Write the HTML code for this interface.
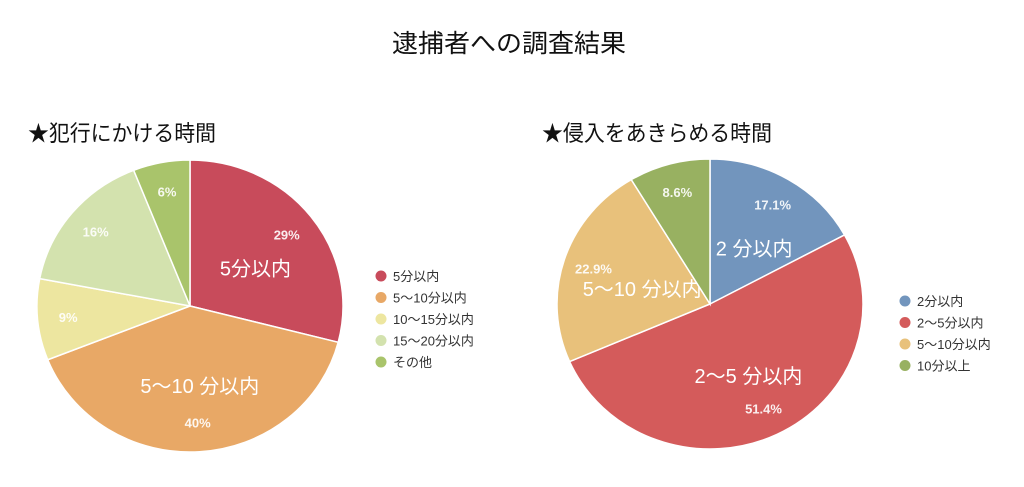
<!DOCTYPE html>
<html><head><meta charset="utf-8"><style>
html,body{margin:0;padding:0;background:#fff;width:1024px;height:487px;overflow:hidden}
svg{display:block;font-family:"Liberation Sans","Noto Sans CJK JP",sans-serif}
</style></head><body>
<svg id="c" width="1024" height="487" viewBox="0 0 1024 487">
<text x="509" y="52" font-size="25" text-anchor="middle" textLength="234" lengthAdjust="spacingAndGlyphs" fill="#111">逮捕者への調査結果</text>
<text x="28" y="141" font-size="22" textLength="188" lengthAdjust="spacingAndGlyphs" fill="#111">★犯行にかける時間</text>
<text x="542" y="141" font-size="22" textLength="230" lengthAdjust="spacingAndGlyphs" fill="#111">★侵入をあきらめる時間</text>
</svg>
<script>
const leftCategories=["5分以内","5〜10分以内","10〜15分以内","15〜20分以内","その他"];
const leftValues=[29,40,9,16,6];
const leftPctLabels=["29%","40%","9%","16%","6%"];
const leftNames=["5分以内","5〜10 分以内","","",""];
const leftColors=["#c84b5b","#e8a866","#ede6a0","#d3e2ae","#a9c46b"];
const rightCategories=["2分以内","2〜5分以内","5〜10分以内","10分以上"];
const rightValues=[17.1,51.4,22.9,8.6];
const rightPctLabels=["17.1%","51.4%","22.9%","8.6%"];
const rightNames=["2 分以内","2〜5 分以内","5〜10 分以内",""];
const rightColors=["#7295bd","#d45b5b","#e8c17b","#98b161"];
const NS="http://www.w3.org/2000/svg";
const svg=document.getElementById('c');
function mk(tag,attrs,parent){const e=document.createElementNS(NS,tag);for(const k in attrs)e.setAttribute(k,attrs[k]);(parent||svg).appendChild(e);return e;}
function pie(prefix,cx,cy,rx,ry,vals,cols,pcts,names,cats,lx,ly,lgap){
  const total=vals.reduce((a,b)=>a+b,0);
  const g=mk('g',{});
  
  
  const pt=(a,r)=>[cx+rx*r*Math.sin(a),cy-ry*r*Math.cos(a)];
  let acc=0;
  vals.forEach((v,i)=>{
    const a0=acc/total*2*Math.PI;acc+=v;const a1=acc/total*2*Math.PI;
    const p0=pt(a0,1),p1=pt(a1,1);
    const large=(a1-a0)>Math.PI?1:0;
    const p=mk('path',{d:`M${cx},${cy}L${p0[0]},${p0[1]}A${rx},${ry} 0 ${large} 1 ${p1[0]},${p1[1]}Z`,fill:cols[i],stroke:'#fff','stroke-width':1.5},g);
    
    
    const am=(a0+a1)/2;
    const lp=pt(am,0.8);
    const t=mk('text',{x:lp[0],y:lp[1]+5,'font-size':13,'font-weight':'bold',fill:'#fff','fill-opacity':0.9,'text-anchor':'middle'},g);
    t.textContent=pcts[i];
    
    
    if(names[i]){
      const np=pt(am,0.5);
      const n=mk('text',{x:np[0]+5,y:np[1]+14,'font-size':20,fill:'#fff','text-anchor':'middle'},g);
      n.textContent=names[i];
      
      
    }
  });
  cats.forEach((c,i)=>{
    const lg=mk('g',{});
    
    
    mk('circle',{cx:lx,cy:ly+i*lgap,r:5.5,fill:cols[i]},lg);
    const t=mk('text',{x:lx+12,y:ly+i*lgap+5,'font-size':13,fill:'#333'},lg);
    t.textContent=c;
  });
}
pie('left',190,306,153,146,leftValues,leftColors,leftPctLabels,leftNames,leftCategories,381,276,21.5);
pie('right',710,304,153,145,rightValues,rightColors,rightPctLabels,rightNames,rightCategories,905,301,21.5);
</script>
</body></html>
